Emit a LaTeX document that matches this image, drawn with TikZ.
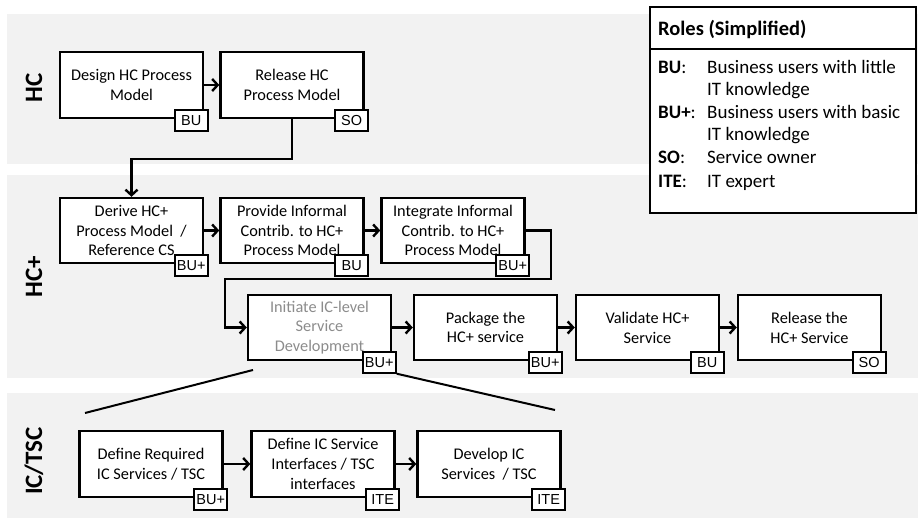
\documentclass[tikz,border=0pt]{standalone}
\usepackage{fontspec}
\setmainfont{Carlito}
\newfontfamily\tagfamily{Liberation Sans}
\usetikzlibrary{arrows.meta,positioning}

\definecolor{lanegray}{HTML}{F2F2F2}
\definecolor{softtext}{HTML}{8C8C8C}

\tikzset{
  lane/.style={fill=lanegray, draw=none},
  lanelabel/.style={rotate=90, font=\fontsize{25}{28}\selectfont\bfseries, inner sep=0pt},
  proc/.style={draw, line width=2.4pt, fill=white, minimum width=143pt, minimum height=66pt,
    align=center, inner sep=1pt, font=\fontsize{16.3}{19.8}\selectfont},
  tag/.style={draw, line width=2pt, fill=white, minimum width=33pt, minimum height=21pt,
    inner sep=0pt, font=\tagfamily\fontsize{14.5}{15}\selectfont},
  flow/.style={line width=2.4pt, -{Straight Barb[length=5.5pt,width=12pt]}},
  roletext/.style={anchor=base west, inner sep=0pt, font=\fontsize{19}{22}\selectfont},
  rolekey/.style={roletext, font=\fontsize{19}{22}\selectfont\bfseries},
  rolehead/.style={anchor=base west, inner sep=0pt, font=\fontsize{20.5}{24}\selectfont\bfseries},
}

\newcommand{\roletag}[3]{\node[tag] (#1) at (#2.south east) [xshift=-13pt, yshift=-1pt] {#3};}

\begin{document}
\begin{tikzpicture}[x=1pt, y=-1pt]
  \useasboundingbox (0,0) rectangle (918,521);

  % swim lanes
  \fill[lane] (7,14) rectangle (918,164);
  \fill[lane] (7,175) rectangle (918,378);
  \fill[lane] (7,393) rectangle (918,518);

  \node[lanelabel] (lhc)  at (34,88)  {HC};
  \node[lanelabel] (lhcp) at (34,277) {HC+};
  \node[lanelabel] (lic)  at (34,461) {IC/TSC};

  % HC lane
  \node[proc] (d1) at (131.5,85) {Design HC Process\\Model};
  \node[proc] (d2) at (292,85)   {Release HC\\Process Model};

  % HC+ lane, first row
  \node[proc, minimum height=65pt] (p1) at (131.5,230.5) {Derive HC+\\Process Model\ \ /\\Reference CS};
  \node[proc, minimum height=65pt] (p2) at (292,230.5)   {Provide Informal\\Contrib. to HC+\\Process Model};
  \node[proc, minimum height=65pt] (p3) at (453,230.5)   {Integrate Informal\\Contrib. to HC+\\Process Model};

  % HC+ lane, second row
  \node[proc, minimum height=65pt, text=softtext] (q1) at (319.5,327.5) {Initiate IC-level\\Service\\Development};
  \node[proc, minimum height=65pt] (q2) at (485.5,327.5) {Package the\\HC+ service};
  \node[proc, minimum height=65pt] (q3) at (647.5,327.5) {Validate HC+\\Service};
  \node[proc, minimum height=65pt] (q4) at (809.5,327.5) {Release the\\HC+ Service};

  % IC/TSC lane
  \node[proc] (r1) at (151,464) {Define Required\\IC Services / TSC};
  \node[proc] (r2) at (323,464) {Define IC Service\\Interfaces / TSC\\interfaces};
  \node[proc] (r3) at (489,464) {Develop IC\\Services\ \ / TSC};

  % flow connectors
  \draw[flow] (d1) -- (d2);
  \draw[flow] (d2.south) -- ++(0,40) -| (p1.north);
  \draw[flow] (p1) -- (p2);
  \draw[flow] (p2) -- (p3);
  \coordinate (back) at (225,279);
  \draw[flow] (p3.east) -- ++(25,0) |- (back) |- (q1.west);
  \draw[flow] (q1) -- (q2);
  \draw[flow] (q2) -- (q3);
  \draw[flow] (q3) -- (q4);
  \draw[flow] (r1) -- (r2);
  \draw[flow] (r2) -- (r3);

  % role tags
  \roletag{td1}{d1}{BU}
  \roletag{td2}{d2}{SO}
  \roletag{tp1}{p1}{BU+}
  \roletag{tp2}{p2}{BU}
  \roletag{tp3}{p3}{BU+}
  \roletag{tq1}{q1}{BU+}
  \roletag{tq2}{q2}{BU+}
  \roletag{tq3}{q3}{BU}
  \roletag{tq4}{q4}{SO}
  \roletag{tr1}{r1}{BU+}
  \roletag{tr2}{r2}{ITE}
  \roletag{tr3}{r3}{ITE}

  % refinement of the initiation step into the IC/TSC lane
  \coordinate (fanL0) at (253,370);
  \coordinate (fanL1) at (85,413);
  \coordinate (fanR1) at (555,410);
  \draw[line width=2pt] (fanL0) -- (fanL1);
  \draw[line width=2pt] (tq1.south east) -- (fanR1);

  % roles legend
  \node[draw, line width=2.4pt, fill=white, minimum width=266pt, minimum height=206pt, inner sep=0pt]
    (roles) at (783,110) {};
  \coordinate (sepL) at (650,49);
  \coordinate (sepR) at (916,49);
  \draw[line width=2pt] (sepL) -- (sepR);
  \node[rolehead] (rh) at (658,36) {Roles (Simplified)};
  \node[rolekey] (k1) at (658,74)  {BU\textmd{:}};
  \node[roletext] (v1) at (707,74)  {Business users with little};
  \node[roletext] (v1b) at (707,96) {IT knowledge};
  \node[rolekey] (k2) at (658,119) {BU+\textmd{:}};
  \node[roletext] (v2) at (707,119) {Business users with basic};
  \node[roletext] (v2b) at (707,141) {IT knowledge};
  \node[rolekey] (k3) at (658,164) {SO\textmd{:}};
  \node[roletext] (v3) at (707,164) {Service owner};
  \node[rolekey] (k4) at (658,188) {ITE\textmd{:}};
  \node[roletext] (v4) at (707,188) {IT expert};
\end{tikzpicture}
\end{document}
